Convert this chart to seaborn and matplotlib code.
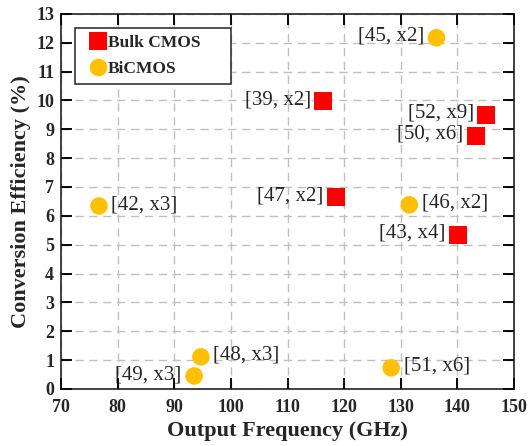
import matplotlib
matplotlib.use('Agg')
import matplotlib.pyplot as plt
import pandas as pd
import seaborn as sns

# Datos
bulk_freq = [116.3, 145.1, 143.3, 118.6, 140.1]
bulk_eff = [9.98, 9.5, 8.77, 6.65, 5.34]
bulk_labels = ['[39, x2]', '[52, x9]', '[50, x6]', '[47, x2]', '[43, x4]']

bicmos_freq = [136.3, 76.7, 131.5, 94.7, 93.5, 128.3]
bicmos_eff = [12.17, 6.34, 6.38, 1.11, 0.45, 0.73]
bicmos_labels = ['[45, x2]', '[42, x3]', '[46, x2]', '[48, x3]', '[49, x3]', '[51, x6]']
bicmos_side = ['left', 'right', 'right', 'right', 'left', 'right']

x_ticks = list(range(70, 151, 10))
y_ticks = list(range(0, 14))

df = pd.DataFrame({
    'freq': bulk_freq + bicmos_freq,
    'eff': bulk_eff + bicmos_eff,
    'tech': ['Bulk CMOS'] * len(bulk_freq) + ['BiCMOS'] * len(bicmos_freq),
    'label': bulk_labels + bicmos_labels,
    'side': ['left'] * len(bulk_freq) + bicmos_side,
})

sns.set_style('ticks')
plt.rcParams['font.family'] = ['Liberation Serif', 'DejaVu Serif']

fig, ax = plt.subplots(figsize=(5.31, 4.46), dpi=100)
fig.subplots_adjust(left=0.115, right=0.968, bottom=0.128, top=0.969)

sns.scatterplot(data=df, x='freq', y='eff', hue='tech', style='tech',
                markers={'Bulk CMOS': 's', 'BiCMOS': 'o'},
                palette={'Bulk CMOS': '#ff0000', 'BiCMOS': '#ffc000'},
                s=160, linewidth=0, ax=ax, zorder=3)

# Etiquetas de referencia junto a cada punto
for _, row in df.iterrows():
    dx = -9 if row['side'] == 'left' else 9
    ha = 'right' if row['side'] == 'left' else 'left'
    ax.annotate(row['label'], (row['freq'], row['eff']), xytext=(dx, 1),
                textcoords='offset points', ha=ha, va='center', fontsize=15)

ax.set_xlim(70, 150)
ax.set_ylim(0, 13)
ax.set_xticks(x_ticks)
ax.set_yticks(y_ticks)
ax.grid(True, linestyle='--', dashes=(6, 4), color='#c0c0c0', linewidth=1)
for sp in ax.spines.values():
    sp.set_linewidth(1.3)
    sp.set_color('#333333')

ax.set_xlabel('Output Frequency (GHz)', fontsize=16, fontweight='bold', labelpad=4)
ax.set_ylabel('Conversion Efficiency (%)', fontsize=16, fontweight='bold', labelpad=4)

leg = ax.legend(loc='upper left', bbox_to_anchor=(0.031, 0.815, 0.345, 0.148),
                mode='expand', borderaxespad=0, fancybox=False,
                edgecolor='#333333', framealpha=1, handletextpad=-0.3,
                handlelength=1.8, borderpad=0.4, labelspacing=0.6,
                prop={'weight': 'bold', 'size': 12.5})
leg.get_frame().set_linewidth(1.2)

ax.tick_params(direction='in', length=8, width=1.1, color='black',
               top=True, right=True, labelsize=13)
ax.tick_params(axis='x', pad=7)
ax.tick_params(axis='y', pad=5)
for lbl in ax.get_xticklabels() + ax.get_yticklabels():
    lbl.set_fontweight('bold')

# Marcas hacia dentro en los cuatro lados, dibujadas aparte para que se vean
tick_style = dict(linestyle='none', color='black', markersize=8,
                  markeredgewidth=1.1, clip_on=False, zorder=4)
ax.plot(x_ticks, [0] * len(x_ticks), marker=2,
        transform=ax.get_xaxis_transform(), **tick_style)
ax.plot(x_ticks, [1] * len(x_ticks), marker=3,
        transform=ax.get_xaxis_transform(), **tick_style)
ax.plot([0] * len(y_ticks), y_ticks, marker=1,
        transform=ax.get_yaxis_transform(), **tick_style)
ax.plot([1] * len(y_ticks), y_ticks, marker=0,
        transform=ax.get_yaxis_transform(), **tick_style)

plt.savefig('out.png', dpi=100)
plt.close(fig)
